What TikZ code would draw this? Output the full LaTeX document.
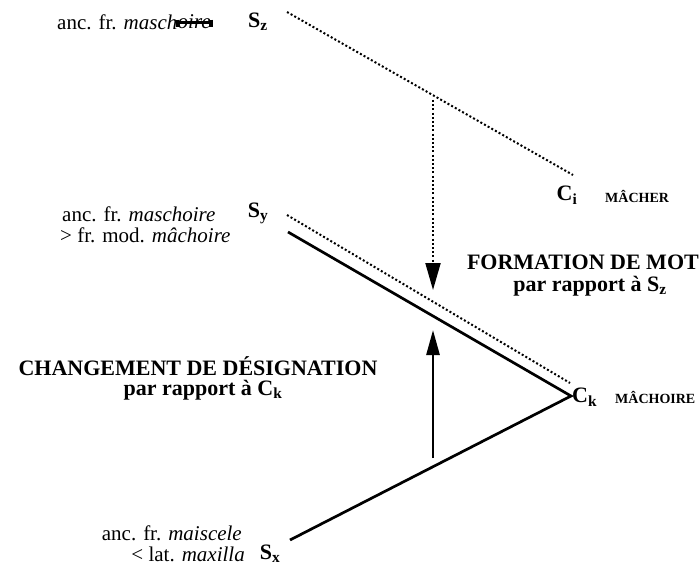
\documentclass[tikz,border=0pt]{standalone}
\usepackage{fontspec}
\setmainfont{Liberation Serif}
\usetikzlibrary{arrows.meta}
\begin{document}
\begin{tikzpicture}[x=1pt,y=-1pt,
  lbl/.style={inner sep=0pt, font=\fontsize{21}{23}\selectfont},
  sym/.style={inner sep=0pt, font=\fontsize{22}{24}\selectfont\bfseries},
  head/.style={inner sep=0pt, font=\fontsize{22}{24}\selectfont\bfseries},
  sc/.style={inner sep=0pt, font=\fontsize{14}{16}\selectfont\bfseries},
  dotline/.style={line width=2pt, dash pattern=on 2pt off 2.2pt},
  fullline/.style={line width=2.7pt},
  tipdown/.style={-{Triangle[length=27pt,width=15pt]}},
  tipup/.style={-{Triangle[length=25pt,width=13pt]}},
  strike/.style={line width=3pt}
]
\useasboundingbox (0,0) rectangle (700,569);

% top level S_z
\node[lbl, anchor=west] (lz) at (57,22) {anc. fr. \textit{masch}};
\node[lbl, anchor=west] (strk) at (lz.east) {\textit{oire}};
\draw[strike] ([yshift=-1pt]strk.west) -- ([yshift=-1pt]strk.east);
\draw[strike] ([yshift=-5pt]strk.north west) -- ([yshift=2pt]strk.south west);
\draw[line width=4pt] ([yshift=-5pt]strk.north east) -- ([yshift=2pt]strk.south east);
\node[sym] (Sz) at (258,22) {S\textsubscript{z}};
\node[sym] (Ci) at (567,195) {C\textsubscript{i}};
\node[sc, anchor=west] (mcher) at (605,196) {MÂCHER};
\coordinate (z1) at (287,12);
\coordinate (z2) at (573,175);
\draw[dotline] (z1) -- (z2);
\coordinate (vz) at (433,100);
\coordinate (vt) at (433,290);
\draw[dotline, tipdown] (vz) -- (vt);

% middle level S_y
\node[lbl, anchor=west] (ly1) at (62,214) {anc. fr. \textit{maschoire}};
\node[lbl, anchor=west] (ly2) at (60,235) {> fr. mod. \textit{mâchoire}};
\node[sym] (Sy) at (258,213) {S\textsubscript{y}};
\coordinate (y1) at (287,215);
\coordinate (y2) at (570,383);
\draw[dotline] (y1) -- (y2);
\coordinate (s1) at (288,232);
\coordinate (vk) at (571,396);
\node[sym, anchor=west] (Ck) at (572,397) {C\textsubscript{k}};
\node[sc, anchor=west] (mchoire) at (615,397) {MÂCHOIRE};

% bottom level S_x
\coordinate (x1) at (290,540);
\draw[fullline, line join=miter] (s1) -- (vk) -- (x1);
\node[sym] (Sx) at (270,554) {S\textsubscript{x}};
\node[lbl, anchor=east] (lx1) at (242,533) {anc. fr. \textit{maiscele}};
\node[lbl, anchor=east] (lx2) at (245,554) {< lat. \textit{maxilla}};
\coordinate (ub) at (433,458);
\coordinate (ut) at (433,330);
\draw[fullline, tipup] (ub) -- (ut);

% headings
\node[head, anchor=east] (fm1) at (699,262) {FORMATION DE MOT};
\node[head] (fm2) at (590,286) {par rapport à S\textsubscript{z}};
\node[head] (cd1) at (198,366) {CHANGEMENT DE DÉSIGNATION};
\node[head] (cd2) at (203,390) {par rapport à C\textsubscript{k}};
\end{tikzpicture}
\end{document}
